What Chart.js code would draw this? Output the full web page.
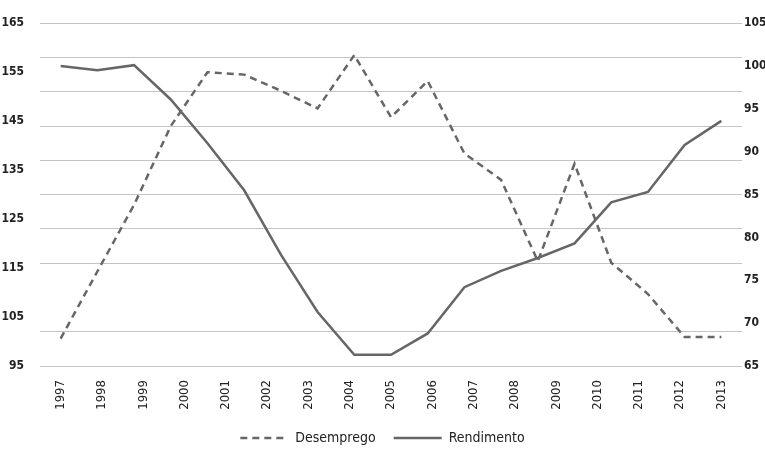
<!DOCTYPE html>
<html>
<head>
<meta charset="utf-8">
<script src="https://cdn.jsdelivr.net/npm/chart.js@4.4.0/dist/chart.umd.min.js"></script>
<style>
  html, body { margin: 0; padding: 0; background: #fff; }
</style>
</head>
<body>
<canvas id="chart" width="765" height="451"></canvas>
<script>
const years = ["1997", "1998", "1999", "2000", "2001", "2002", "2003", "2004", "2005",
  "2006", "2007", "2008", "2009", "2010", "2011", "2012", "2013"];

// 19 observations, evenly spread from 1997 to 2013
const desemprego = [100.6, 114.3, 127.9, 144.0, 155.0, 154.5, 151.2, 147.6, 158.5, 145.8,
  153.2, 138.4, 133.0, 116.4, 136.3, 116.1, 109.7, 100.9, 100.9];
const rendimento = [100.0, 99.5, 100.1, 96.1, 91.0, 85.5, 78.0, 71.3, 66.3, 66.3,
  68.8, 74.2, 76.1, 77.6, 79.3, 84.1, 85.3, 90.8, 93.6];

const leftRange = [95, 165, 10];
const rightRange = [65, 105, 5];

const FONT = "'Liberation Sans Narrow', 'DejaVu Sans Condensed', Roboto, sans-serif";
const LINE = "#666666";

const toPoints = arr => arr.map((v, i) => ({ x: i, y: v }));

const ctx = document.getElementById("chart").getContext("2d");
new Chart(ctx, {
  type: "line",
  data: {
    datasets: [
      {
        label: "Desemprego",
        data: toPoints(desemprego),
        xAxisID: "x",
        yAxisID: "y",
        borderColor: LINE,
        backgroundColor: "rgba(0,0,0,0)",
        borderWidth: 2.5,
        borderDash: [7, 5],
        pointRadius: 0,
        tension: 0
      },
      {
        label: "Rendimento",
        data: toPoints(rendimento),
        xAxisID: "x",
        yAxisID: "y2",
        borderColor: LINE,
        backgroundColor: "rgba(0,0,0,0)",
        borderWidth: 2.5,
        pointRadius: 0,
        tension: 0
      }
    ]
  },
  options: {
    responsive: false,
    animation: false,
    layout: { padding: { top: 20, right: 0, bottom: -4, left: 0 } },
    plugins: {
      tooltip: { enabled: false },
      legend: {
        position: "bottom",
        labels: {
          usePointStyle: true,
          pointStyle: "line",
          pointStyleWidth: 48,
          padding: 18,
          color: "#222",
          font: { family: FONT, size: 14 },
          // point style legends drop the dash pattern, put it back
          generateLabels: chart =>
            Chart.defaults.plugins.legend.labels.generateLabels(chart).map((item, i) => ({
              ...item,
              lineDash: chart.data.datasets[i].borderDash || [],
              lineWidth: 2.5,
              strokeStyle: LINE
            }))
        }
      }
    },
    scales: {
      x: {
        type: "linear",
        display: false,
        min: -0.5625,
        max: 18.5625
      },
      years: {
        type: "category",
        axis: "x",
        position: "bottom",
        labels: years,
        offset: true,
        grid: { display: false, drawTicks: false },
        border: { display: false },
        ticks: {
          autoSkip: false,
          minRotation: 90,
          maxRotation: 90,
          padding: 14,
          color: "#222",
          font: { family: FONT, size: 13 }
        },
        afterFit: s => { s.height = 47; }
      },
      grid: {
        type: "linear",
        axis: "y",
        position: "left",
        min: 0,
        max: 10,
        ticks: { display: false, stepSize: 1 },
        grid: {
          color: c => (c.tick && c.tick.value === 2) ? "rgba(0,0,0,0)" : "#c4c4c4",
          lineWidth: 1,
          drawTicks: false
        },
        border: { display: false },
        afterFit: s => { s.width = 0; }
      },
      y: {
        position: "left",
        min: leftRange[0],
        max: leftRange[1],
        ticks: {
          stepSize: leftRange[2],
          padding: 16,
          color: "#222",
          font: { family: FONT, size: 12, weight: "bold" }
        },
        grid: { display: false, drawTicks: false },
        border: { display: false },
        afterFit: s => { s.width = 40; }
      },
      y2: {
        position: "right",
        min: rightRange[0],
        max: rightRange[1],
        ticks: {
          stepSize: rightRange[2],
          padding: 2,
          color: "#222",
          font: { family: FONT, size: 12, weight: "bold" }
        },
        grid: { display: false, drawTicks: false },
        border: { display: false },
        afterFit: s => { s.width = 23; }
      }
    }
  }
});
</script>
</body>
</html>
